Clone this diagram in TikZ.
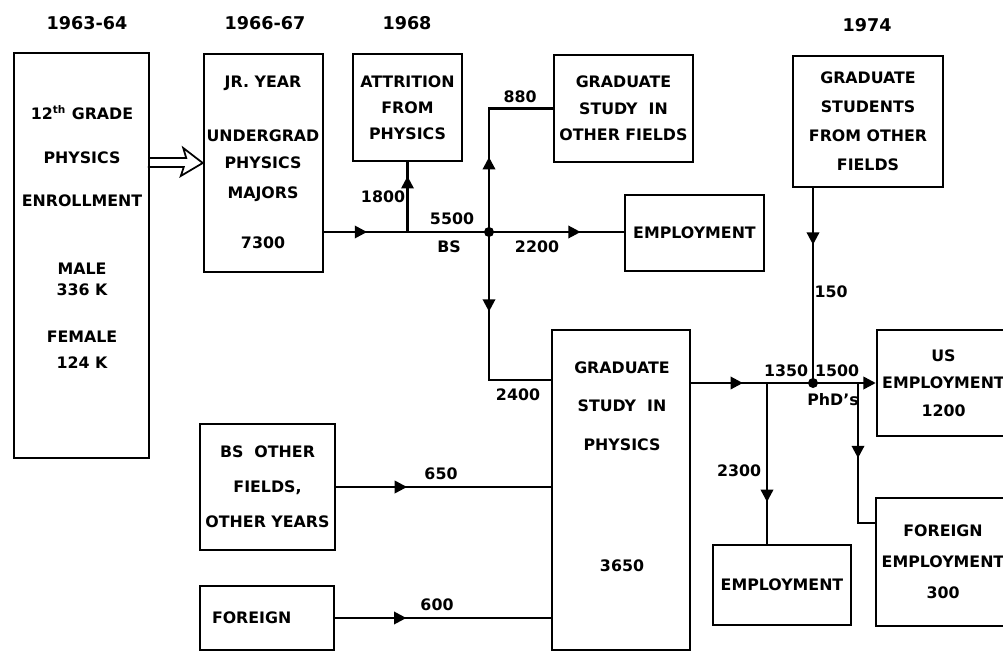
\documentclass[tikz,border=0pt]{standalone}
\usepackage{fontspec}
\setmainfont{DejaVu Sans}
\usetikzlibrary{arrows.meta,decorations.markings,calc}

\tikzset{
  box/.style={draw, rectangle, line width=1.4pt, inner sep=0pt, align=center, font=\bfseries\fontsize{9}{12}\selectfont},
  txt/.style={inner sep=0pt, align=center, font=\bfseries\fontsize{9}{12}\selectfont},
  year/.style={inner sep=0pt, font=\bfseries\fontsize{10}{12}\selectfont},
  flow/.style={line width=1.4pt, postaction={decorate},
    decoration={markings, mark=at position #1 with {\arrow{Triangle[length=7pt,width=7pt]}}}}
}

\begin{document}
\begin{tikzpicture}[x=0.2mm, y=-0.2mm]
  \useasboundingbox (0,0) rectangle (1003,652);

  % Years
  \node[year] (y1) at (87,23) {1963-64};
  \node[year] (y2) at (265,23) {1966-67};
  \node[year] (y3) at (407,23) {1968};
  \node[year] (y4) at (867,25) {1974};

  % High school and undergrad
  \node[box, minimum width=27mm, minimum height=81mm] (grade) at (81.5,255.5) {};
  \node[txt] (gradetxt) at (82,237) {12\textsuperscript{th} GRADE\\[13pt] PHYSICS\\[12.5pt] ENROLLMENT\\[26.7pt] MALE\\ 336 K\\[14.7pt] FEMALE\\[2.8pt] 124 K};
  \node[box, minimum width=23.8mm, minimum height=43.6mm] (jr) at (263.5,163) {};
  \node[txt] (jrtxt) at (263,162.5) {JR. YEAR\\[18.7pt] UNDERGRAD\\[3.4pt] PHYSICS\\[5.1pt] MAJORS\\[16.5pt] 7300};
  \node[box, minimum width=21.8mm, minimum height=21.4mm] (attr) at (407.5,107.5) {ATTRITION\\[2.8pt] FROM\\[2.8pt] PHYSICS};

  % After the BS
  \node[box, minimum width=27.8mm, minimum height=21.4mm] (gof) at (623.5,108.5) {GRADUATE\\[3pt] STUDY~~IN\\[3pt] OTHER FIELDS};
  \node[box, minimum width=27.8mm, minimum height=15.2mm] (emp1) at (694.5,233) {EMPLOYMENT};
  \node[box, minimum width=30mm, minimum height=26.2mm] (gsof) at (868,121.5) {GRADUATE\\[4.5pt] STUDENTS\\[4.5pt] FROM OTHER\\[4.5pt] FIELDS};

  % Graduate study
  \node[box, minimum width=27.6mm, minimum height=64mm] (gsp) at (621,490) {};
  \node[txt] (gsptxt) at (622,467) {GRADUATE\\[9.6pt] STUDY~~IN\\[10.2pt] PHYSICS\\[56.8pt] 3650};
  \node[box, minimum width=27mm, minimum height=25.2mm] (bso) at (267.5,487) {BS~~OTHER\\[7.9pt] FIELDS,\\[7.9pt] OTHER YEARS};
  \node[box, align=left, text width=22mm, inner xsep=2.4mm, minimum height=12.8mm] (forg) at (267,618) {FOREIGN};

  % After the PhD
  \node[box, minimum width=27.6mm, minimum height=16mm] (emp2) at (782,585) {EMPLOYMENT};
  \node[box, minimum width=26.6mm, minimum height=21.2mm] (us) at (943.5,383) {US\\[3.6pt] EMPLOYMENT\\[3.6pt] 1200};
  \node[box, minimum width=26.8mm, minimum height=25.6mm] (femp) at (943,562) {FOREIGN\\[5.6pt] EMPLOYMENT\\[5.6pt] 300};

  % Enrollment into majors
  \draw[line width=1pt] (grade.east |- jr.west) ++(0,-5) -- ++(36,0) -- ++(-3,-10) -- (jr.west)
    -- ++(-22,13) -- ++(3,-9) -- ++(-36,0);

  % Junctions
  \coordinate (jA) at (489,232);
  \coordinate (jB) at (attr.south |- jA);
  \coordinate (jC) at (767,383);
  \coordinate (jD) at (813,383);
  \coordinate (jE) at (858,383);

  % Flows
  \draw[flow=0.26] (jr.east |- jA) -- (jA);
  \draw[flow=0.8] (jB) -- (attr.south);
  \draw[flow=0.68] (jA) -- (emp1.west |- jA);
  \draw[flow=0.4] (jA) |- (gof.west);
  \draw[flow=0.38] (jA) |- ($(gsp.north west)+(0,51)$);
  \draw[flow=0.33] (bso.east) -- (gsp.west |- bso.east);
  \draw[flow=0.33] (forg.east) -- (gsp.west |- forg.east);
  \draw[flow=0.28, -{Triangle[length=7pt,width=7pt]}] (gsp.east |- jD) -- (us.west |- jD);
  \draw[flow=0.29] (gsof.south -| jD) -- (jD);
  \draw[flow=0.74] (jC) -- (jC |- emp2.north);
  \draw[flow=0.48] (jE) |- ($(femp.north west)+(0,26)$);
  \fill (jA) circle[radius=1mm];
  \fill (jD) circle[radius=1mm];

  % Flow numbers
  \node[txt] (n1800) at (383,197) {1800};
  \node[txt] (n5500) at (452,219) {5500};
  \node[txt] (nbs) at (449,247) {BS};
  \node[txt] (n880) at (520,97) {880};
  \node[txt] (n2200) at (537,247) {2200};
  \node[txt] (n2400) at (518,395) {2400};
  \node[txt] (n650) at (441,474) {650};
  \node[txt] (n600) at (437,605) {600};
  \node[txt] (n2300) at (739,471) {2300};
  \node[txt] (n1350) at (786,371) {1350};
  \node[txt] (n1500) at (837,371) {1500};
  \node[txt] (nphd) at (833,400) {PhD’s};
  \node[txt] (n150) at (831,292) {150};
\end{tikzpicture}
\end{document}
